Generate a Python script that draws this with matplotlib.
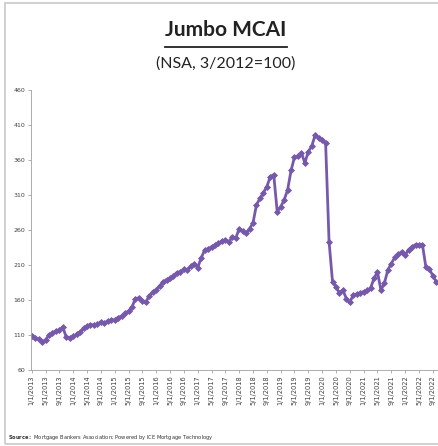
import matplotlib
matplotlib.use("Agg")
import matplotlib.pyplot as plt
from matplotlib.lines import Line2D
from matplotlib.patches import Rectangle
import numpy as np

# Jumbo MCAI, monthly, Jan 2013 .. Oct 2022
jumbo = [108, 106, 104, 100, 103, 110, 113, 116, 117, 121, 107, 106,
         108, 111, 114, 120, 123, 125, 124, 126, 128, 127, 130, 131,
         132, 135, 137, 141, 144, 150, 162, 163, 159, 157, 166, 171,
         175, 180, 186, 189, 191, 195, 199, 200, 204, 203, 208, 212,
         206, 220, 231, 233, 236, 238, 241, 244, 246, 243, 250, 248,
         262, 258, 255, 262, 270, 296, 305, 313, 322, 336, 339, 286,
         293, 303, 317, 345, 364, 366, 370, 356, 372, 380, 396, 391,
         389, 384, 243, 186, 179, 170, 174, 162, 157, 167, 168, 170,
         172, 174, 177, 191, 200, 174, 184, 203, 212, 221, 225, 229,
         224, 232, 236, 239, 238, 239, 207, 204, 195, 186]

tick_labels = [f"{mo}/1/{yr}" for yr in range(2013, 2023) for mo in (1, 5, 9)]
y_ticks = list(range(60, 461, 50))

W, H = 439, 446
fig = plt.figure(figsize=(W / 100, H / 100), dpi=100)
fig.patch.set_facecolor("white")

# chart border
fig.add_artist(Rectangle((5 / W, 2 / H), (W - 4) / W, (H - 5) / H,
                         transform=fig.transFigure, fill=False,
                         edgecolor="#c8c8c8", linewidth=1.2))

ax = fig.add_axes([31 / W, (H - 370) / H, (438 - 31) / W, 280 / H])
x = np.arange(len(jumbo))
ax.plot(x, jumbo, color="#7659ab", linewidth=2.0, marker="D",
        markersize=3.0, markeredgewidth=0.6)

ax.set_ylim(60, 460)
ax.set_xlim(-0.2, 117.5)
ax.set_yticks(y_ticks)
ax.set_yticklabels([str(v) for v in y_ticks], fontsize=4.5, color="#404040")
ax.set_xticks(np.arange(0, 117, 4))
ax.set_xticklabels(tick_labels, rotation=90, fontsize=4.8, color="#404040")
ax.tick_params(axis="both", length=2, width=0.5, color="#909090", pad=2)
for s in ("top", "right"):
    ax.spines[s].set_visible(False)
ax.spines["left"].set_color("#a0a0a0")
ax.spines["bottom"].set_color("#a0a0a0")
ax.spines["left"].set_linewidth(0.6)
ax.spines["bottom"].set_linewidth(0.6)

title = fig.text(226 / W, 1 - 30 / H, "Jumbo MCAI", ha="center", va="center",
                 fontsize=15, fontweight="bold", family="Lato", color="#222222")
fig.text(226 / W, 1 - 64 / H, "(NSA, 3/2012=100)", ha="center", va="center",
         fontsize=11.5, family="Lato", color="#222222")

fig.text(8 / W, 1 - 438 / H, r"$\bf{Source:}$ Mortgage Bankers Association; Powered by ICE Mortgage Technology",
         ha="left", va="center", fontsize=3.7, color="#333333")

# underline the title
fig.canvas.draw()
bb = title.get_window_extent().transformed(fig.transFigure.inverted())
uy = 1 - 47 / H
fig.add_artist(Line2D([bb.x0, bb.x1], [uy, uy], transform=fig.transFigure,
                      color="#222222", linewidth=1.3))

fig.savefig("out.png", dpi=100)
